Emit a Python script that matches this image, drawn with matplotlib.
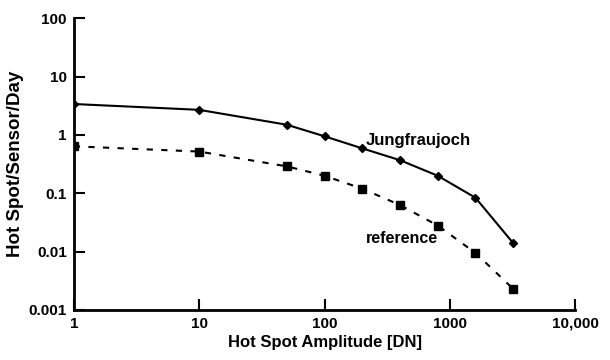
import matplotlib
matplotlib.use("Agg")
import matplotlib.pyplot as plt

plt.rcParams['font.family'] = ['Liberation Sans', 'DejaVu Sans']
plt.rcParams['font.weight'] = 'bold'

amp = [1, 10, 50, 100, 200, 400, 800, 1600, 3200]
jungfraujoch = [3.4, 2.7, 1.5, 0.95, 0.59, 0.37, 0.2, 0.084, 0.014]
reference = [0.64, 0.52, 0.29, 0.2, 0.12, 0.063, 0.028, 0.0095, 0.0023]

xticks = [1, 10, 100, 1000, 10000]
xlabels = ['1', '10', '100', '1000', '10,000']
yticks = [0.001, 0.01, 0.1, 1, 10, 100]
ylabels = ['0.001', '0.01', '0.1', '1', '10', '100']

fig = plt.figure(figsize=(6.1, 3.6), dpi=100)
ax = fig.add_axes([0.121, 0.139, 0.822, 0.81])

ax.plot(amp, jungfraujoch, '-', color='black', lw=1.5, marker='D', ms=4.5)
ax.plot(amp, reference, color='black', lw=1.5, ls=(0, (3, 4)), marker='s', ms=5.5)

ax.set_xscale('log')
ax.set_yscale('log')
ax.set_xlim(1, 10000)
ax.set_ylim(0.001, 100)
ax.set_xticks(xticks)
ax.set_xticklabels(xlabels)
ax.set_yticks(yticks)
ax.set_yticklabels(ylabels)
ax.minorticks_off()
ax.tick_params(direction='in', length=8, width=1.5, labelsize=11, pad=5)

for s in ['top', 'right']:
    ax.spines[s].set_visible(False)
for s in ['left', 'bottom']:
    ax.spines[s].set_linewidth(2)

ax.text(212, 0.8, 'Jungfraujoch', fontsize=12, fontweight='bold', va='center')
ax.text(212, 0.017, 'reference', fontsize=11.5, fontweight='bold', va='center')

ax.set_xlabel('Hot Spot Amplitude [DN]', fontsize=12, fontweight='bold', labelpad=3)
ax.set_ylabel('Hot Spot/Sensor/Day', fontsize=13.5, fontweight='bold', labelpad=3)

fig.savefig('out.png', dpi=100)
